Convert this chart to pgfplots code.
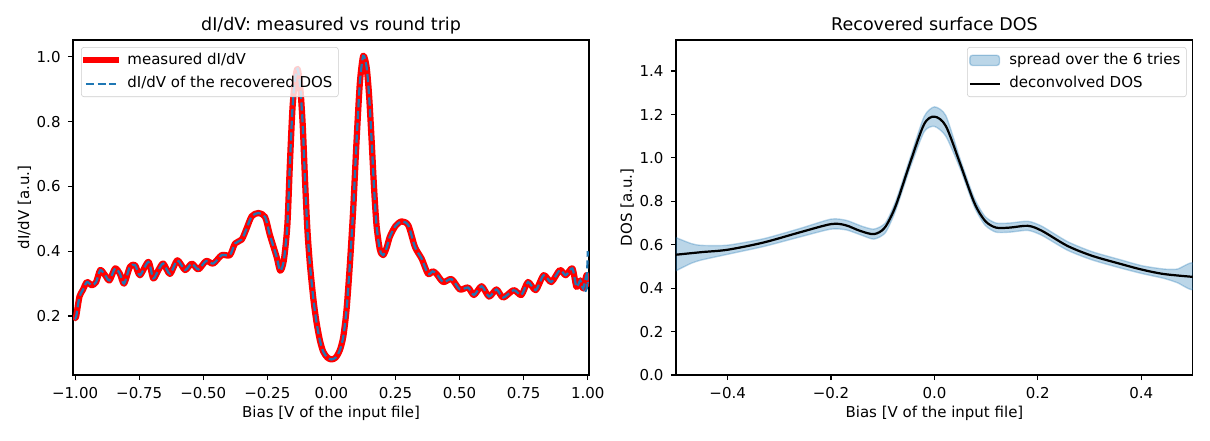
\documentclass[border=0pt]{standalone}
\usepackage{fontspec}
\setmainfont{DejaVu Sans}
\usepackage{pgfplots}
\pgfplotsset{compat=1.18}
\usepackage{pgfplotstable}

\definecolor{c0}{RGB}{31,119,180}
\definecolor{legedge}{gray}{0.8}

% measured dI/dV
\pgfplotstableread{
x y
-1.000 0.195
-0.996 0.198
-0.983 0.260
-0.970 0.280
-0.954 0.305
-0.935 0.295
-0.918 0.305
-0.902 0.342
-0.883 0.326
-0.866 0.310
-0.844 0.347
-0.825 0.330
-0.809 0.300
-0.786 0.352
-0.766 0.357
-0.747 0.326
-0.714 0.367
-0.695 0.316
-0.675 0.342
-0.656 0.362
-0.630 0.330
-0.601 0.372
-0.571 0.342
-0.545 0.362
-0.519 0.344
-0.489 0.370
-0.461 0.362
-0.428 0.388
-0.396 0.388
-0.376 0.424
-0.350 0.436
-0.331 0.470
-0.311 0.508
-0.285 0.518
-0.259 0.506
-0.240 0.450
-0.214 0.383
-0.200 0.340
-0.186 0.370
-0.172 0.480
-0.162 0.670
-0.152 0.840
-0.142 0.930
-0.132 0.963
-0.122 0.910
-0.112 0.790
-0.103 0.620
-0.094 0.470
-0.084 0.360
-0.070 0.250
-0.058 0.180
-0.045 0.125
-0.032 0.090
-0.016 0.072
0.000 0.066
0.017 0.072
0.033 0.095
0.046 0.135
0.059 0.220
0.072 0.360
0.085 0.530
0.098 0.740
0.111 0.920
0.124 1.003
0.137 0.970
0.147 0.880
0.157 0.740
0.166 0.600
0.176 0.480
0.189 0.405
0.202 0.388
0.215 0.410
0.228 0.445
0.250 0.478
0.274 0.492
0.300 0.480
0.326 0.413
0.352 0.377
0.377 0.330
0.395 0.338
0.410 0.330
0.436 0.305
0.469 0.314
0.501 0.282
0.533 0.288
0.556 0.265
0.586 0.292
0.615 0.260
0.644 0.282
0.670 0.257
0.711 0.280
0.741 0.265
0.767 0.305
0.797 0.280
0.828 0.326
0.858 0.305
0.891 0.342
0.914 0.326
0.940 0.347
0.956 0.290
0.971 0.310
0.982 0.285
0.995 0.326
1.000 0.300
}\measured

% deconvolved DOS
\pgfplotstableread{
x y
-0.500 0.554
-0.450 0.566
-0.400 0.577
-0.331 0.610
-0.262 0.656
-0.200 0.695
-0.172 0.690
-0.144 0.664
-0.117 0.649
-0.096 0.679
-0.075 0.779
-0.047 0.978
-0.020 1.155
0.000 1.190
0.022 1.147
0.049 0.978
0.077 0.794
0.098 0.710
0.119 0.679
0.146 0.679
0.181 0.687
0.208 0.664
0.257 0.595
0.305 0.549
0.361 0.511
0.402 0.485
0.444 0.465
0.500 0.452
}\dos

% spread band: upper edge left to right, then lower edge right to left
\pgfplotstableread{
x y
-0.500 0.633
-0.470 0.605
-0.450 0.597
-0.400 0.598
-0.330 0.628
-0.260 0.675
-0.200 0.718
-0.170 0.712
-0.140 0.685
-0.117 0.672
-0.095 0.700
-0.075 0.800
-0.047 1.000
-0.020 1.190
0.000 1.235
0.022 1.195
0.049 1.000
0.077 0.815
0.098 0.730
0.119 0.700
0.146 0.700
0.181 0.708
0.208 0.685
0.257 0.615
0.305 0.568
0.361 0.530
0.402 0.503
0.444 0.488
0.470 0.488
0.500 0.515
0.500 0.395
0.470 0.425
0.444 0.445
0.402 0.467
0.361 0.492
0.305 0.530
0.257 0.575
0.208 0.643
0.181 0.666
0.146 0.658
0.119 0.658
0.098 0.690
0.077 0.775
0.049 0.955
0.022 1.100
0.000 1.145
-0.020 1.120
-0.047 0.955
-0.075 0.758
-0.095 0.655
-0.117 0.626
-0.140 0.643
-0.170 0.668
-0.200 0.672
-0.260 0.636
-0.330 0.592
-0.400 0.556
-0.450 0.530
-0.470 0.515
-0.500 0.480
}\band

\pgfplotsset{
  mpl/.style={
    scale only axis,
    height=241.2pt,
    axis line style={line width=0.84pt},
    tick align=outside,
    major tick length=3.7pt,
    every tick/.style={black, line width=0.84pt},
    xtick pos=bottom, ytick pos=left,
    xticklabel style={yshift=-1.5pt},
    yticklabel style={xshift=-1.5pt},
    every axis x label/.style={at={(axis description cs:0.5,-0.1262)}, anchor=base},
    every axis y label/.style={at={(axis description cs:-0.0853,0.5)}, rotate=90, anchor=base},
    every axis title shift=0pt,
    title style={font=\fontsize{12.6}{15}\selectfont, anchor=base, at={(axis description cs:0.5,1.027)}},
    legend cell align=left,
    legend style={draw=legedge, rounded corners=2pt, fill=white, fill opacity=0.8,
      text opacity=1, inner sep=1pt,
      row sep=0pt, column sep=3pt,
      nodes={inner xsep=3.3pt, inner ysep=3pt, text height=0.75em, text depth=0.25em}},
    legend image code/.code={\draw[##1] (0pt,0pt) -- (21.4pt,0pt);},
  },
  bandleg/.style={legend image code/.code={\draw[##1] (0pt,-3.7pt) rectangle (21.4pt,3.7pt);}},
}

\begin{document}
\fontsize{10.8}{13}\selectfont
\begin{tikzpicture}
\path[use as bounding box] (0,0) rectangle (871.2pt,316.8pt);

\begin{axis}[mpl,
  at={(52.6pt,46.8pt)}, anchor=south west,
  width=371.5pt,
  xmin=-1.008, xmax=1.005, ymin=0.018, ymax=1.052,
  xtick={-1,-0.75,-0.5,-0.25,0,0.25,0.5,0.75,1},
  xticklabels={−1.00,−0.75,−0.50,−0.25,0.00,0.25,0.50,0.75,1.00},
  ytick={0.2,0.4,0.6,0.8,1.0},
  yticklabels={0.2,0.4,0.6,0.8,1.0},
  title={dI/dV: measured vs round trip},
  xlabel={Bias [V of the input file]},
  ylabel={dI/dV [a.u.]},
  legend style={at={(0.0155,0.979)}, anchor=north west},
]
\addplot[red, line width=4.5pt, smooth, tension=0.45, line join=round, line cap=rect] table[x=x,y=y] {\measured};
\addlegendentry{measured dI/dV}
\addplot[c0, line width=1.6pt, smooth, tension=0.45, dash pattern=on 5.9pt off 2.6pt] table[x=x,y=y] {\measured};
\addlegendentry{dI/dV of the recovered DOS}
\addplot[c0, line width=1.6pt, dash pattern=on 5.9pt off 2.6pt, forget plot] coordinates {(0.990,0.275) (0.996,0.285) (1.000,0.400)};
\end{axis}

\begin{axis}[mpl,
  at={(486.7pt,46.8pt)}, anchor=south west,
  width=372.2pt,
  xmin=-0.5, xmax=0.5, ymin=0, ymax=1.543,
  xtick={-0.4,-0.2,0,0.2,0.4},
  xticklabels={−0.4,−0.2,0.0,0.2,0.4},
  ytick={0,0.2,0.4,0.6,0.8,1.0,1.2,1.4},
  yticklabels={0.0,0.2,0.4,0.6,0.8,1.0,1.2,1.4},
  title={Recovered surface DOS},
  xlabel={Bias [V of the input file]},
  ylabel={DOS [a.u.]},
  legend style={at={(0.988,0.979)}, anchor=north east},
]
\addplot[fill=c0, fill opacity=0.3, draw=c0, draw opacity=0.3, line width=1pt, smooth, tension=0.4, bandleg]
  table[x=x,y=y] {\band} -- cycle;
\addlegendentry{spread over the 6 tries}
\addplot[black, line width=1.6pt, smooth] table[x=x,y=y] {\dos};
\addlegendentry{deconvolved DOS}
\end{axis}
\end{tikzpicture}
\end{document}
